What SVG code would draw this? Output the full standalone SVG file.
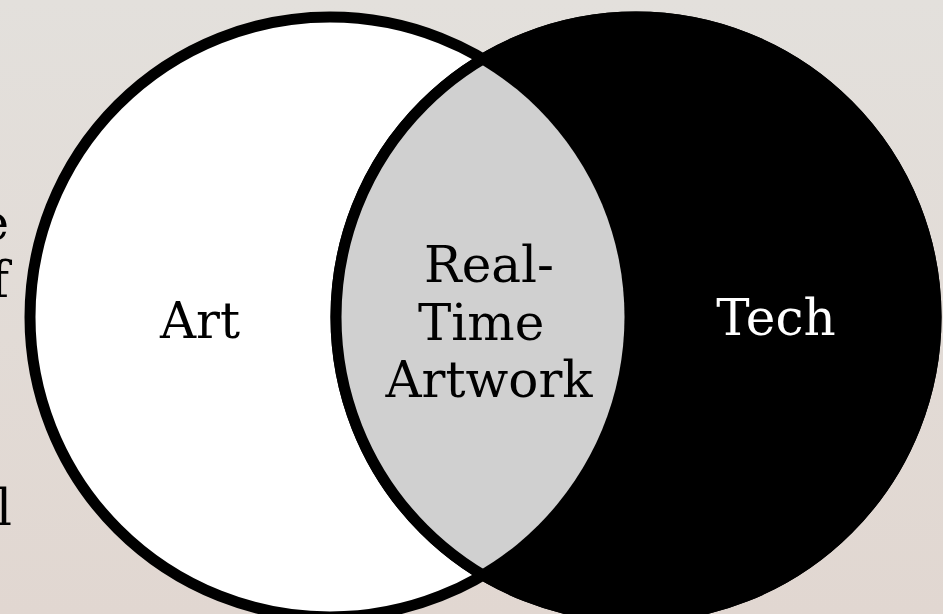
<svg xmlns="http://www.w3.org/2000/svg" width="943" height="614" viewBox="0 0 943 614">
<defs>
<linearGradient id="bg" x1="0" y1="0" x2="0" y2="1">
<stop offset="0" stop-color="#e3e0dc"/>
<stop offset="1" stop-color="#e1d7d1"/>
</linearGradient>
<clipPath id="rightClip"><circle cx="636" cy="317" r="300"/></clipPath>
</defs>
<style>
.lbl{font-family:"DejaVu Serif","Liberation Serif",serif;font-size:50px;}
.dark{fill:#000;}
.light{fill:#fff;}
</style>
<rect width="943" height="614" fill="url(#bg)"/>
<g id="edge-text">
<text class="lbl dark" x="9" y="240" text-anchor="end">e</text>
<text class="lbl dark" x="9" y="297" text-anchor="end">f</text>
<text class="lbl dark" x="12" y="525" text-anchor="end">l</text>
</g>
<g id="connectors"></g>
<g id="art">
<circle cx="330" cy="317" r="300" fill="#fff" stroke="#000" stroke-width="11"/>
</g>
<g id="tech">
<circle cx="636" cy="317" r="300" fill="#000" stroke="#000" stroke-width="11"/>
</g>
<g id="overlap">
<circle cx="330" cy="317" r="294.5" fill="#d0d0d0" clip-path="url(#rightClip)"/>
<circle cx="636" cy="317" r="300" fill="none" stroke="#000" stroke-width="11"/>
</g>
<g id="labels">
<text class="lbl dark" x="200" y="338" text-anchor="middle">Art</text>
<text class="lbl light" x="776" y="335" text-anchor="middle">Tech</text>
<text class="lbl dark" x="489" y="282" text-anchor="middle">Real-</text>
<text class="lbl dark" x="418" y="340">Time</text>
<text class="lbl dark" x="489" y="397" text-anchor="middle">Artwork</text>
</g>
</svg>
